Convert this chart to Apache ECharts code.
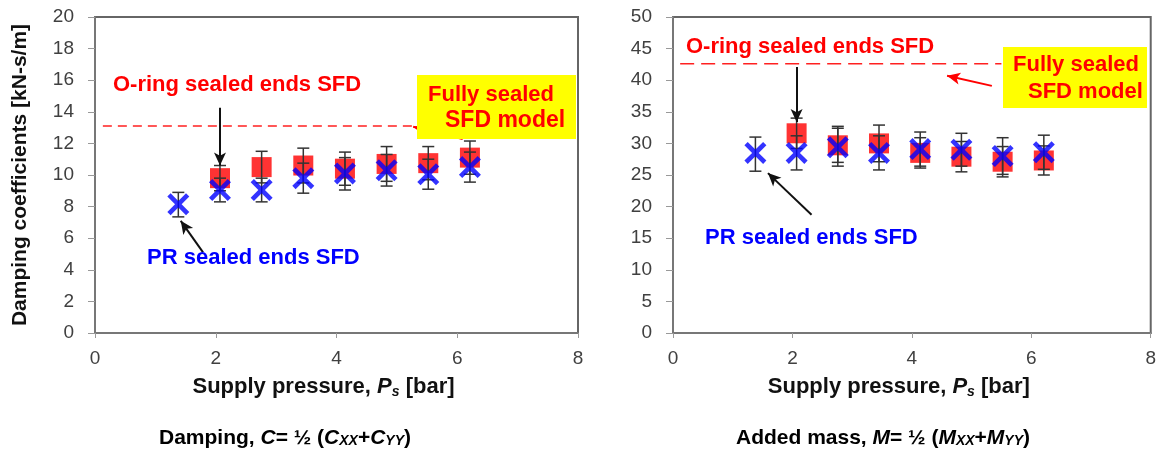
<!DOCTYPE html>
<html>
<head>
<meta charset="utf-8">
<script src="https://cdn.jsdelivr.net/npm/echarts@6/dist/echarts.min.js"></script>
<style>
html, body { margin: 0; padding: 0; background: #fff; }
#chart { width: 1159px; height: 449px; }
</style>
</head>
<body>
<div id="chart"></div>
<script>
// supply pressure [bar]
const prPressure = [1.38, 2.07, 2.76, 3.45, 4.14, 4.83, 5.52, 6.21];
const oringPressure = [2.07, 2.76, 3.45, 4.14, 4.83, 5.52, 6.21];

// damping C [kN-s/m]
const dampOring = [9.8, 10.5, 10.6, 10.4, 10.7, 10.75, 11.1];
const dampOringLow = [9.0, 9.5, 9.5, 9.35, 9.6, 9.7, 10.05];
const dampOringHigh = [10.6, 11.5, 11.7, 11.45, 11.8, 11.8, 12.15];
const dampPR = [8.15, 9.05, 9.05, 9.8, 10.1, 10.3, 10.05, 10.5];
const dampPRLow = [7.35, 8.3, 8.3, 8.85, 9.05, 9.3, 9.1, 9.55];
const dampPRHigh = [8.9, 9.8, 9.8, 10.75, 11.1, 11.3, 11.0, 11.45];
const dampModel = 13.1;
const dampModelSpan = [0.13, 5.27];

// added mass M [kg]
const massOring = [31.6, 29.7, 30.0, 28.5, 27.9, 27.1, 27.3];
const massOringLow = [29.2, 27.0, 27.1, 26.1, 25.5, 24.7, 25.0];
const massOringHigh = [34.0, 32.7, 32.9, 30.9, 30.3, 29.5, 29.6];
const massPR = [28.5, 28.5, 29.4, 28.5, 29.1, 29.0, 28.0, 28.6];
const massPRLow = [25.6, 25.8, 26.4, 25.8, 26.4, 26.4, 25.1, 25.9];
const massPRHigh = [31.0, 31.2, 32.4, 31.2, 31.8, 31.6, 30.9, 31.3];
const massModel = 42.6;
const massModelSpan = [0.12, 5.5];

const FONT = '"Liberation Sans", Arial, sans-serif';
const xMark = 'path://M3,0 L10,7 L17,0 L20,3 L13,10 L20,17 L17,20 L10,13 L3,20 L0,17 L7,10 L0,3 Z';

function pairs(xs, ys) {
    return xs.map((x, i) => [x, ys[i]]);
}

function errorBars(xs, lows, highs, ax) {
    return {
        type: 'custom',
        xAxisIndex: ax,
        yAxisIndex: ax,
        z: 3,
        silent: true,
        data: xs.map((x, i) => [x, lows[i], highs[i]]),
        encode: { x: 0, y: [1, 2] },
        renderItem: function (params, api) {
            const lo = api.coord([api.value(0), api.value(1)]);
            const hi = api.coord([api.value(0), api.value(2)]);
            const w = 6;
            const st = { stroke: '#333', lineWidth: 1.5 };
            return {
                type: 'group',
                children: [
                    { type: 'line', shape: { x1: lo[0], y1: lo[1], x2: hi[0], y2: hi[1] }, style: st },
                    { type: 'line', shape: { x1: lo[0] - w, y1: lo[1], x2: lo[0] + w, y2: lo[1] }, style: st },
                    { type: 'line', shape: { x1: hi[0] - w, y1: hi[1], x2: hi[0] + w, y2: hi[1] }, style: st }
                ]
            };
        }
    };
}

function arrow(from, to, color) {
    return [{ coord: from, lineStyle: { color: color } }, { coord: to }];
}

const axisLabelStyle = { fontSize: 19, color: '#404040', fontFamily: FONT };
const axisLineStyle = { show: true, lineStyle: { color: '#777', width: 2 } };

function xAxis(gridIndex) {
    return {
        type: 'value',
        gridIndex: gridIndex,
        min: 0,
        max: 8,
        interval: 2,
        axisLine: axisLineStyle,
        axisTick: { show: true, length: 5, lineStyle: { color: '#999' } },
        axisLabel: Object.assign({ margin: 16 }, axisLabelStyle),
        splitLine: { show: false },
        name: '{n|Supply pressure, }{i|P}{s|s}{n| [bar]}',
        nameLocation: 'middle',
        nameGap: 42,
        nameTextStyle: {
            padding: [0, 26, 0, 0],
            rich: {
                n: { fontSize: 22, fontWeight: 'bold', fontFamily: FONT, color: '#111' },
                i: { fontSize: 22, fontWeight: 'bold', fontStyle: 'italic', fontFamily: FONT, color: '#111' },
                s: { fontSize: 14, fontWeight: 'bold', fontStyle: 'italic', fontFamily: FONT, color: '#111', padding: [10, 0, 0, 0] }
            }
        }
    };
}

const chart = echarts.init(document.getElementById('chart'));

const textEl = (text, x, y, color, size, align) => ({
    type: 'text',
    x: x,
    y: y,
    z: 100,
    style: {
        text: text,
        fill: color,
        fontSize: size,
        fontWeight: 'bold',
        fontFamily: FONT,
        align: align || 'left',
        verticalAlign: 'middle'
    }
});

const capRich = {
    b: { fontSize: 21, fontWeight: 'bold', fontFamily: FONT, color: '#000' },
    i: { fontSize: 21, fontWeight: 'bold', fontStyle: 'italic', fontFamily: FONT, color: '#000' },
    s: { fontSize: 14, fontWeight: 'bold', fontStyle: 'italic', fontFamily: FONT, color: '#000', padding: [6, 0, 0, 0] }
};

const option = {
    animation: false,
    backgroundColor: '#fff',
    grid: [
        { left: 95, right: 581, top: 17, bottom: 116, show: true, borderColor: '#666', borderWidth: 2 },
        { left: 673, right: 7, top: 17, bottom: 116, show: true, borderColor: '#666', borderWidth: 2 }
    ],
    xAxis: [xAxis(0), xAxis(1)],
    yAxis: [
        {
            type: 'value', gridIndex: 0, min: 0, max: 20, interval: 2,
            axisLine: axisLineStyle,
            axisTick: { show: true, length: 7, lineStyle: { color: '#999' } },
            axisLabel: Object.assign({ margin: 21 }, axisLabelStyle),
            splitLine: { show: false },
            name: 'Damping coefficients [kN-s/m]',
            nameLocation: 'middle',
            nameGap: 64,
            nameTextStyle: { fontSize: 21, fontWeight: 'bold', fontFamily: FONT, color: '#111' }
        },
        {
            type: 'value', gridIndex: 1, min: 0, max: 50, interval: 5,
            axisLine: axisLineStyle,
            axisTick: { show: true, length: 7, lineStyle: { color: '#999' } },
            axisLabel: Object.assign({ margin: 21 }, axisLabelStyle),
            splitLine: { show: false }
        }
    ],
    series: [
        // damping
        {
            type: 'line', xAxisIndex: 0, yAxisIndex: 0, z: 1, silent: true,
            symbol: 'none',
            data: dampModelSpan.map(x => [x, dampModel]),
            lineStyle: { color: '#ff2020', width: 1.5, type: [9, 6] },
            markLine: {
                silent: true, animation: false,
                symbol: ['none', 'arrow'], symbolSize: [9, 13],
                label: { show: false },
                lineStyle: { type: 'solid', width: 2 },
                data: [
                    arrow([2.07, 14.25], [2.07, 10.6], '#111'),
                    arrow([6.09, 12.28], [5.27, 13.05], '#ff0000'),
                    arrow([1.79, 5.1], [1.42, 7.1], '#111')
                ]
            }
        },
        {
            type: 'scatter', xAxisIndex: 0, yAxisIndex: 0, z: 2,
            symbol: 'rect', symbolSize: 20,
            itemStyle: { color: '#ff0000' },
            data: pairs(oringPressure, dampOring)
        },
        errorBars(oringPressure, dampOringLow, dampOringHigh, 0),
        errorBars(prPressure, dampPRLow, dampPRHigh, 0),
        {
            type: 'scatter', xAxisIndex: 0, yAxisIndex: 0, z: 4,
            symbol: xMark, symbolSize: 22,
            itemStyle: { color: '#0000ff' },
            data: pairs(prPressure, dampPR)
        },
        // added mass
        {
            type: 'line', xAxisIndex: 1, yAxisIndex: 1, z: 1, silent: true,
            symbol: 'none',
            data: massModelSpan.map(x => [x, massModel]),
            lineStyle: { color: '#ff2020', width: 1.5, type: [14, 7] },
            markLine: {
                silent: true, animation: false,
                symbol: ['none', 'arrow'], symbolSize: [9, 13],
                label: { show: false },
                lineStyle: { type: 'solid', width: 2 },
                data: [
                    arrow([2.07, 42.1], [2.07, 33.4], '#111'),
                    arrow([5.34, 39.1], [4.59, 40.7], '#ff0000'),
                    arrow([2.32, 18.7], [1.59, 25.3], '#111')
                ]
            }
        },
        {
            type: 'scatter', xAxisIndex: 1, yAxisIndex: 1, z: 2,
            symbol: 'rect', symbolSize: 20,
            itemStyle: { color: '#ff0000' },
            data: pairs(oringPressure, massOring)
        },
        errorBars(oringPressure, massOringLow, massOringHigh, 1),
        errorBars(prPressure, massPRLow, massPRHigh, 1),
        {
            type: 'scatter', xAxisIndex: 1, yAxisIndex: 1, z: 4,
            symbol: xMark, symbolSize: 22,
            itemStyle: { color: '#0000ff' },
            data: pairs(prPressure, massPR)
        }
    ],
    graphic: [
        { type: 'rect', z: 90, shape: { x: 417, y: 75, width: 159, height: 64 }, style: { fill: '#ffff00' } },
        { type: 'rect', z: 90, shape: { x: 1003, y: 47, width: 144, height: 61 }, style: { fill: '#ffff00' } },
        textEl('O-ring sealed ends SFD', 113, 85, '#ff0000', 22),
        textEl('Fully sealed', 428, 95, '#ff0000', 22),
        textEl('SFD model', 445, 121, '#ff0000', 23),
        textEl('PR sealed ends SFD', 147, 258, '#0000ff', 22),
        textEl('O-ring sealed ends SFD', 686, 47, '#ff0000', 22),
        textEl('Fully sealed', 1013, 65, '#ff0000', 22),
        textEl('SFD model', 1028, 92, '#ff0000', 22),
        textEl('PR sealed ends SFD', 705, 238, '#0000ff', 22),
        {
            type: 'text', x: 285, y: 438, z: 100,
            style: {
                text: '{b|Damping, }{i|C}{b|= ½ (}{i|C}{s|XX}{b|+}{i|C}{s|YY}{b|)}',
                rich: capRich, align: 'center', verticalAlign: 'middle'
            }
        },
        {
            type: 'text', x: 883, y: 438, z: 100,
            style: {
                text: '{b|Added mass, }{i|M}{b|= ½ (}{i|M}{s|XX}{b|+}{i|M}{s|YY}{b|)}',
                rich: capRich, align: 'center', verticalAlign: 'middle'
            }
        }
    ]
};

chart.setOption(option);
</script>
</body>
</html>
